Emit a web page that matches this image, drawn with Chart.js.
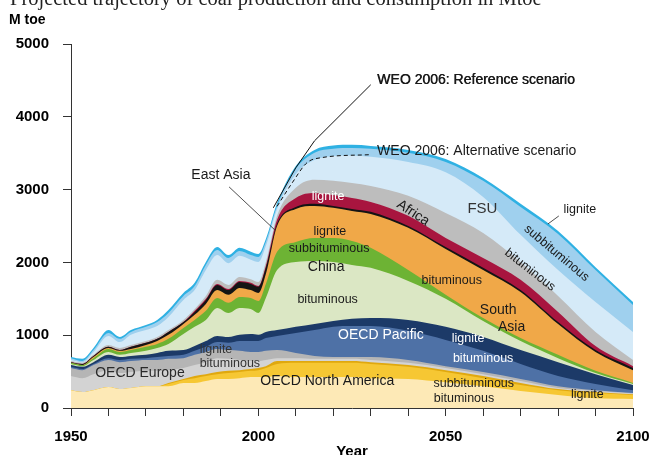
<!DOCTYPE html>
<html>
<head>
<meta charset="utf-8">
<title>Coal production and consumption, Mtoe</title>
<script src="https://cdn.jsdelivr.net/npm/chart.js@4.4.1/dist/chart.umd.min.js"></script>
<style>
  body { margin: 0; background: #fff; }
  #wrap { position: relative; width: 664px; height: 455px; }
</style>
</head>
<body>
<div id="wrap"><canvas id="coal-chart"></canvas></div>
<script>
// sample years
var years = [1950,1953,1956,1960,1963,1966,1970,1973,1976,1980,1983,1986,1989,1992,1995,1998,2000,2002,2005,
             2010,2015,2020,2025,2030,2040,2050,2060,2070,2080,2090,2100];

// cumulative top of every layer (Mtoe), bottom layer first
var naBituminous    = [245,220,245,290,260,275,300,300,300,345,345,370,400,400,410,425,425,425,440, 425,425,425,425,410,400,355,300,235,180,135,125];
var naSubbituminous = [245,220,245,290,260,275,300,300,330,385,410,440,465,480,495,510,520,550,605, 620,620,620,620,605,565,495,410,315,245,205,180];
var naLignite       = [245,220,245,290,260,275,300,300,345,400,440,465,495,510,520,535,550,575,645, 645,645,645,645,630,590,520,440,345,260,220,190];
var euBituminous    = [440,410,465,520,480,495,510,510,520,550,590,630,685,675,660,645,645,660,685, 685,675,675,675,660,620,550,465,370,275,235,200];
var euLignite       = [550,520,590,660,630,645,660,660,675,685,730,770,810,795,785,770,770,785,795, 755,715,700,700,700,660,575,495,400,300,245,205];
var pacBituminous   = [565,535,605,685,660,675,685,700,715,730,785,840,905,895,920,920,920,960,990, 1030,1070,1115,1125,1125,1060,935,785,605,440,330,245];
var pacLignite      = [590,565,630,730,700,715,730,755,785,795,850,920,990,975,1005,1015,1005,1045,1070, 1115,1155,1195,1225,1235,1210,1115,975,795,630,465,315];
var chinaBituminous = [605,575,660,770,730,755,785,825,880,1015,1115,1210,1375,1305,1375,1360,1305,1510,1895, 2005,2020,2005,1965,1925,1745,1500,1195,920,685,480,330];
var chinaSubbit     = [620,590,685,810,770,795,840,880,950,1100,1210,1335,1510,1445,1525,1510,1470,1705,2145, 2280,2335,2335,2295,2200,1895,1555,1235,960,730,510,345];
var southAsia       = [620,590,700,825,785,810,865,920,1005,1155,1280,1430,1620,1555,1650,1620,1580,1840,2500, 2735,2775,2750,2705,2665,2475,2185,1895,1595,1155,770,520];
var eastAsia        = [630,605,715,840,795,840,895,950,1045,1180,1320,1485,1690,1620,1730,1705,1665,1925,2530, 2760,2805,2775,2735,2695,2500,2210,1925,1620,1180,795,550];
var redBand         = [630,605,715,840,795,840,895,950,1045,1180,1335,1500,1705,1635,1745,1720,1675,1950,2585, 2885,2955,2925,2885,2830,2640,2335,2060,1760,1320,850,575];
var africa          = [645,620,730,865,825,865,920,975,1070,1210,1360,1540,1760,1690,1800,1770,1730,2005,2640, 3025,3135,3120,3090,3050,2915,2680,2405,2005,1540,1045,660];
var fsuBituminous   = [660,630,770,990,905,1005,1070,1125,1250,1485,1620,1895,2100,1990,2090,2035,2005,2225,2735, 3215,3405,3460,3470,3450,3380,3240,2900,2380,1895,1455,1045];
var fsuSubbit       = [685,645,795,1030,950,1045,1115,1180,1305,1540,1675,1965,2170,2060,2155,2100,2075,2280,2775, 3285,3505,3560,3570,3560,3505,3380,3120,2760,2390,1895,1415];
var fsuLignite      = [700,675,825,1070,975,1070,1140,1210,1345,1580,1720,2005,2210,2100,2200,2145,2115,2320,2815, 3325,3545,3605,3615,3600,3545,3420,3160,2805,2430,1935,1455];

// WEO 2006 scenario lines
var refYears  = [2004, 2010, 2015, 2030];
var refValues = [2750, 3300, 3670, 4440];
var altYears  = [2005, 2009, 2013, 2017, 2030];
var altValues = [2770, 3090, 3370, 3440, 3480];

var yTicks = [0, 1000, 2000, 3000, 4000, 5000];
var xLabels = [1950, 2000, 2050, 2100];

var layers = [
    { label: 'OECD North America bituminous', data: naBituminous, color: '#fde9b6' },
    { label: 'OECD North America subbituminous', data: naSubbituminous, color: '#f6c733' },
    { label: 'OECD North America lignite', data: naLignite, color: '#e0a80e' },
    { label: 'OECD Europe bituminous', data: euBituminous, color: '#d3d3d3' },
    { label: 'OECD Europe lignite', data: euLignite, color: '#b5b5b5' },
    { label: 'OECD Pacific bituminous', data: pacBituminous, color: '#4e71a6' },
    { label: 'OECD Pacific lignite', data: pacLignite, color: '#1c3a68' },
    { label: 'China bituminous', data: chinaBituminous, color: '#dbe7c4' },
    { label: 'China subbituminous', data: chinaSubbit, color: '#6db334' },
    { label: 'South Asia', data: southAsia, color: '#f0a848' },
    { label: 'East Asia', data: eastAsia, color: '#141414' },
    { label: 'lignite', data: redBand, color: '#a8153f' },
    { label: 'Africa', data: africa, color: '#bdbdbd' },
    { label: 'FSU bituminous', data: fsuBituminous, color: '#d5eaf8' },
    { label: 'FSU subbituminous', data: fsuSubbit, color: '#9fd0ee' },
    { label: 'FSU lignite', data: fsuLignite, color: '#2fb1e3' }
];

function points(xs, ys) {
    return xs.map(function(x, i) { return { x: x, y: ys[i] }; });
}

var datasets = layers.map(function(layer) {
    return {
        label: layer.label,
        data: points(years, layer.data),
        backgroundColor: layer.color,
        borderColor: layer.color,
        borderWidth: 0,
        fill: 'origin',
        pointRadius: 0,
        cubicInterpolationMode: 'monotone'
    };
});

datasets.push({
    label: 'WEO 2006: Reference scenario',
    data: points(refYears, refValues),
    borderColor: '#111',
    borderWidth: 1,
    fill: false,
    pointRadius: 0,
    order: -1
});
datasets.push({
    label: 'WEO 2006: Alternative scenario',
    data: points(altYears, altValues),
    borderColor: '#111',
    borderWidth: 1,
    borderDash: [4, 3],
    fill: false,
    pointRadius: 0,
    cubicInterpolationMode: 'monotone',
    order: -1
});

// text on the chart, placed in year / Mtoe coordinates
var notes = [
    { text: 'East Asia', year: 1990, value: 3200, size: 14 },
    { text: 'WEO 2006: Reference scenario', year: 2031.7, value: 4510, size: 14, align: 'left', heavy: true },
    { text: 'WEO 2006: Alternative scenario', year: 2031.7, value: 3530, size: 14, align: 'left' },
    { text: 'lignite', year: 2018.6, value: 2900, size: 12.5, color: '#fff' },
    { text: 'Africa', year: 2041.3, value: 2680, size: 14, angle: 33 },
    { text: 'FSU', year: 2059.8, value: 2734, size: 15, color: '#333' },
    { text: 'lignite', year: 2085.8, value: 2720, size: 12.5 },
    { text: 'subbituminous', year: 2079.6, value: 2126, size: 12.5, angle: 40 },
    { text: 'bituminous', year: 2072.5, value: 1896, size: 12.5, angle: 38 },
    { text: 'lignite', year: 2019.1, value: 2422, size: 12.5 },
    { text: 'subbituminous', year: 2018.9, value: 2194, size: 12.5 },
    { text: 'China', year: 2018.1, value: 1933, size: 14 },
    { text: 'bituminous', year: 2018.5, value: 1484, size: 12.5 },
    { text: 'bituminous', year: 2051.6, value: 1749, size: 12.5 },
    { text: 'South', year: 2064, value: 1347, size: 14 },
    { text: 'Asia', year: 2067.6, value: 1109, size: 14 },
    { text: 'OECD Pacific', year: 2032.7, value: 1003, size: 14, color: '#fff' },
    { text: 'lignite', year: 2056, value: 958, size: 12.5, color: '#fff' },
    { text: 'bituminous', year: 2060, value: 678, size: 12.5, color: '#fff' },
    { text: 'subbituminous', year: 2057.5, value: 339, size: 12.5 },
    { text: 'bituminous', year: 2054.9, value: 133, size: 12.5 },
    { text: 'lignite', year: 2087.8, value: 179, size: 12.5 },
    { text: 'OECD North America', year: 2018.4, value: 375, size: 14 },
    { text: 'OECD Europe', year: 1968.4, value: 477, size: 14, color: '#2a2a2a' },
    { text: 'lignite', year: 1988.7, value: 797, size: 12.5, color: '#333' },
    { text: 'bituminous', year: 1992.4, value: 614, size: 12.5, color: '#333' }
];

var leaders = [
    [1992.2, 3037, 2004.4, 2446],
    [2077.3, 2528, 2080.2, 2638]
];

var font = '"Liberation Sans", Arial, sans-serif';

var notesPlugin = {
    id: 'notes',
    afterDatasetsDraw: function(chart) {
        var ctx = chart.ctx;
        var xs = chart.scales.x, ys = chart.scales.y;

        ctx.save();
        ctx.strokeStyle = '#222';
        ctx.lineWidth = 0.8;
        leaders.forEach(function(l) {
            ctx.beginPath();
            ctx.moveTo(xs.getPixelForValue(l[0]), ys.getPixelForValue(l[1]));
            ctx.lineTo(xs.getPixelForValue(l[2]), ys.getPixelForValue(l[3]));
            ctx.stroke();
        });
        ctx.restore();

        notes.forEach(function(n) {
            ctx.save();
            ctx.translate(xs.getPixelForValue(n.year), ys.getPixelForValue(n.value));
            if (n.angle) ctx.rotate(n.angle * Math.PI / 180);
            ctx.font = n.size + 'px ' + font;
            ctx.fillStyle = n.color || '#1a1a1a';
            ctx.textAlign = n.align || 'center';
            ctx.textBaseline = 'middle';
            ctx.fillText(n.text, 0, 0);
            if (n.heavy) ctx.fillText(n.text, 0.5, 0);
            ctx.restore();
        });
    },
    afterDraw: function(chart) {
        var ctx = chart.ctx;
        ctx.save();
        ctx.fillStyle = '#222';
        ctx.font = '20.5px "Liberation Serif", serif';
        ctx.textBaseline = 'alphabetic';
        ctx.fillText('Projected trajectory of coal production and consumption in Mtoe', 10, 5);

        ctx.fillStyle = '#000';
        ctx.font = 'bold 14px ' + font;
        ctx.textBaseline = 'middle';
        ctx.fillText('M toe', 9, 20);

        ctx.font = 'bold 15px ' + font;
        ctx.textAlign = 'center';
        ctx.textBaseline = 'top';
        var a = chart.chartArea;
        ctx.fillText('Year', (a.left + a.right) / 2, 444);
        ctx.restore();
    }
};

new Chart(document.getElementById('coal-chart'), {
    type: 'line',
    data: { datasets: datasets },
    plugins: [notesPlugin],
    options: {
        responsive: true,
        maintainAspectRatio: false,
        animation: false,
        layout: { padding: { top: 44, right: 31, left: 0, bottom: 0 } },
        plugins: {
            legend: { display: false },
            tooltip: { enabled: false }
        },
        scales: {
            x: {
                type: 'linear',
                min: 1950,
                max: 2100,
                afterFit: function(scale) { scale.height = 47; },
                grid: { drawOnChartArea: false, drawTicks: true, tickLength: 8, color: '#333' },
                border: { display: true, color: '#333' },
                ticks: {
                    stepSize: 10,
                    autoSkip: false,
                    maxRotation: 0,
                    padding: 12,
                    color: '#000',
                    font: { family: font, size: 15, weight: 'bold' },
                    callback: function(v) { return xLabels.indexOf(v) >= 0 ? String(v) : ''; }
                }
            },
            y: {
                min: 0,
                max: 5000,
                afterFit: function(scale) { scale.width = 71; },
                afterBuildTicks: function(scale) {
                    scale.ticks = yTicks.map(function(v) { return { value: v }; });
                },
                grid: { drawOnChartArea: false, drawTicks: true, tickLength: 8, color: '#333' },
                border: { display: true, color: '#333' },
                ticks: {
                    padding: 14,
                    color: '#000',
                    font: { family: font, size: 15, weight: 'bold' },
                    callback: function(v) { return String(v); }
                }
            }
        }
    }
});
</script>
</body>
</html>
